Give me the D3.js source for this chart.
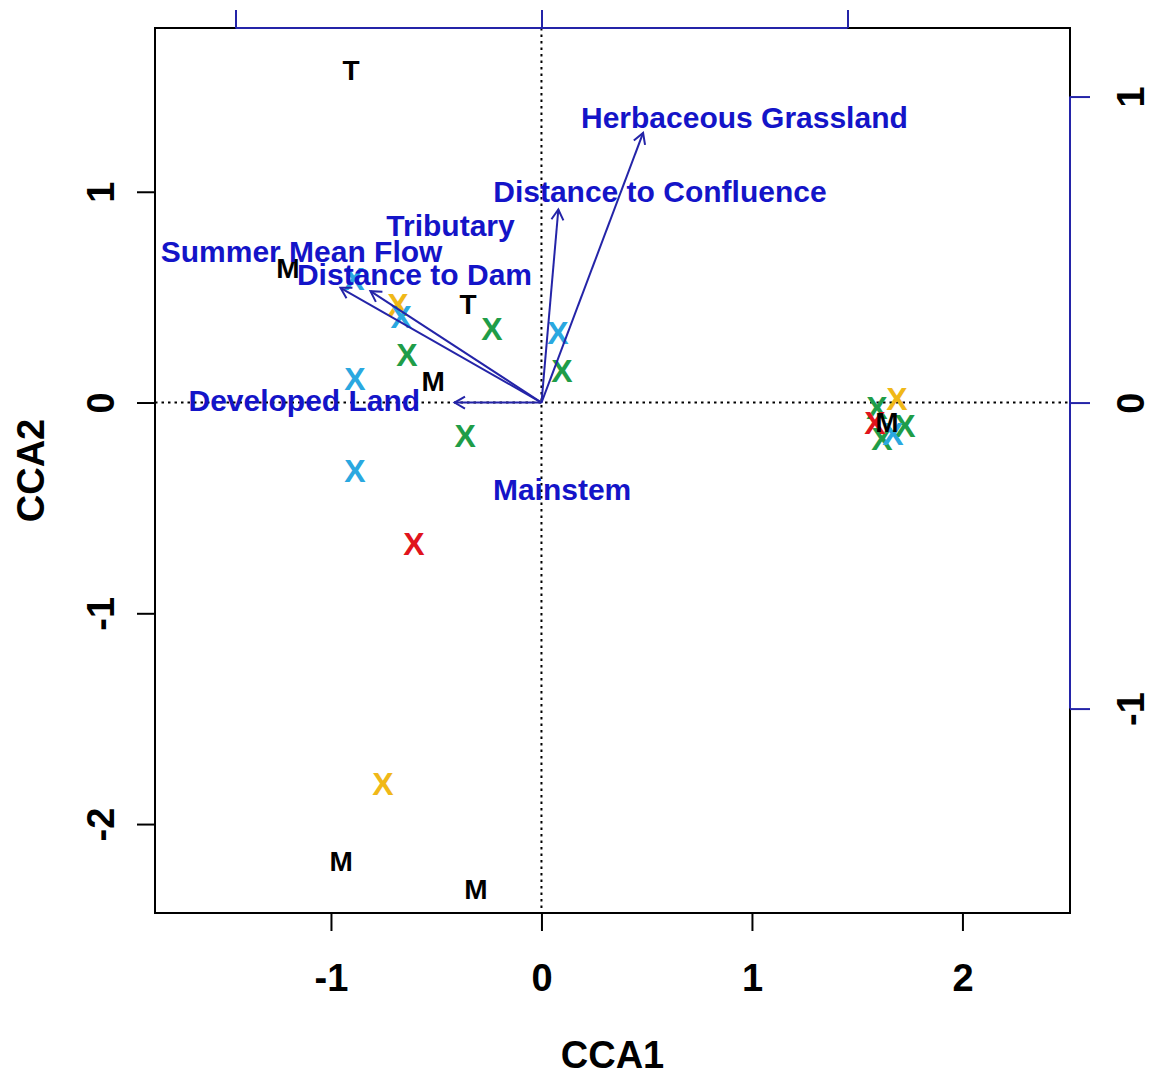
<!DOCTYPE html>
<html>
<head>
<meta charset="utf-8">
<script src="https://cdn.jsdelivr.net/npm/d3@7"></script>
<style>
  html, body { margin: 0; padding: 0; background: #ffffff; }
  svg { display: block; font-family: "Liberation Sans", Arial, Helvetica, sans-serif; font-weight: bold; }
</style>
</head>
<body>
<svg id="chart" width="1150" height="1078"></svg>
<script>
// ---- Site scores (CCA1, CCA2), one array per colour group ----
const greenSites  = [[-0.235, 0.353], [-0.639, 0.230], [-0.363, -0.159], [0.097, 0.154],
                     [1.594, -0.026], [1.727, -0.107], [1.618, -0.169]];
const yellowSites = [[-0.682, 0.463], [-0.753, -1.810], [1.689, 0.021]];
const blueSites   = [[-0.891, 0.586], [-0.667, 0.410], [-0.886, 0.116], [-0.886, -0.325],
                     [0.078, 0.330], [1.670, -0.145]];
const redSites    = [[-0.606, -0.671], [1.584, -0.093]];

// ---- Lettered scores: M = mainstem, T = tributary ----
const letterCodes  = ["T", "M", "T", "M", "M", "M", "M"];
const letterScores = [[-0.905, 1.577], [-1.204, 0.638], [-0.349, 0.467], [-0.515, 0.102],
                      [1.641, -0.093], [-0.952, -2.175], [-0.311, -2.308]];

// ---- Environmental biplot arrows (biplot axis units) ----
const envNames  = ["Herbaceous Grassland", "Distance to Confluence", "Summer Mean Flow",
                   "Distance to Dam", "Developed Land"];
const envArrows = [[0.332, 0.881], [0.055, 0.631], [-0.657, 0.375], [-0.559, 0.364], [-0.284, 0.0]];
const envLabels = [[0.663, 0.931], [0.387, 0.690], [-0.784, 0.494], [-0.415, 0.418], [-0.775, 0.008]];

// ---- Factor centroids (site units) ----
const centroidNames  = ["Tributary", "Mainstem"];
const centroidScores = [[-0.432, 0.840], [0.098, -0.413]];

// ---- Axis ticks ----
const xTicks = [-1, 0, 1, 2];
const yTicks = [-2, -1, 0, 1];
const biplotTicks = [-1, 0, 1];

const colors = { green: "#1f9d48", yellow: "#f0b818", blue: "#2aa8e0", red: "#e0141c" };
const envBlue = "#1414c8";
const arrowBlue = "#2424a8";

const svg = d3.select("#chart");
const L = 155, R = 1070, T = 28, B = 913;

// Site-score scales (bottom / left axes)
const x = d3.scaleLinear().domain([-1.836, 2.511]).range([L, R]);
const y = d3.scaleLinear().domain([1.777, -2.422]).range([T, B]);
// Biplot scales (top / right axes)
const bx = d3.scaleLinear().domain([-1.263, 1.727]).range([L, R]);
const by = d3.scaleLinear().domain([1.224, -1.668]).range([T, B]);

// Zero reference lines
svg.append("line")
  .attr("x1", x(0)).attr("x2", x(0)).attr("y1", T).attr("y2", B)
  .attr("stroke", "#000").attr("stroke-width", 2).attr("stroke-dasharray", "2.5,4");
svg.append("line")
  .attr("x1", L).attr("x2", R).attr("y1", y(0)).attr("y2", y(0))
  .attr("stroke", "#000").attr("stroke-width", 2).attr("stroke-dasharray", "2.5,4");

// Colored X marks
const groups = [[greenSites, colors.green], [yellowSites, colors.yellow],
                [blueSites, colors.blue], [redSites, colors.red]];
const xSize = 32;
groups.forEach(([pts, col]) => {
  svg.append("g").selectAll("text").data(pts).join("text")
    .attr("x", d => x(d[0]))
    .attr("y", d => y(d[1]) + 0.358 * xSize)
    .attr("text-anchor", "middle")
    .attr("font-size", xSize)
    .attr("fill", col)
    .text("X");
});

// Letters
const lSize = 28;
svg.append("g").selectAll("text").data(letterScores).join("text")
  .attr("x", d => x(d[0]))
  .attr("y", d => y(d[1]) + 0.358 * lSize)
  .attr("text-anchor", "middle")
  .attr("font-size", lSize)
  .attr("fill", "#000")
  .text((d, i) => letterCodes[i]);

// Biplot arrows with open heads
const gArr = svg.append("g").attr("stroke", arrowBlue).attr("stroke-width", 2).attr("fill", "none");
const headLen = 12, headAng = Math.PI / 6;
envArrows.forEach(a => {
  const x0 = bx(0), y0 = by(0), x1 = bx(a[0]), y1 = by(a[1]);
  gArr.append("line").attr("x1", x0).attr("y1", y0).attr("x2", x1).attr("y2", y1);
  const ang = Math.atan2(y1 - y0, x1 - x0);
  const head = d3.path();
  head.moveTo(x1 - headLen * Math.cos(ang - headAng), y1 - headLen * Math.sin(ang - headAng));
  head.lineTo(x1, y1);
  head.lineTo(x1 - headLen * Math.cos(ang + headAng), y1 - headLen * Math.sin(ang + headAng));
  gArr.append("path").attr("d", head.toString());
});

// Arrow labels and centroid labels
const tSize = 30;
svg.append("g").selectAll("text").data(envLabels).join("text")
  .attr("x", d => bx(d[0]))
  .attr("y", d => by(d[1]) + 0.358 * tSize)
  .attr("text-anchor", "middle")
  .attr("font-size", tSize)
  .attr("fill", envBlue)
  .text((d, i) => envNames[i]);
svg.append("g").selectAll("text").data(centroidScores).join("text")
  .attr("x", d => x(d[0]))
  .attr("y", d => y(d[1]) + 0.358 * tSize)
  .attr("text-anchor", "middle")
  .attr("font-size", tSize)
  .attr("fill", envBlue)
  .text((d, i) => centroidNames[i]);

// Plot box
svg.append("rect")
  .attr("x", L).attr("y", T).attr("width", R - L).attr("height", B - T)
  .attr("fill", "none").attr("stroke", "#000").attr("stroke-width", 2);

const fmt = d => String(d);
const axSize = 38;

// Bottom axis
const gB = svg.append("g").attr("transform", `translate(0,${B})`)
  .call(d3.axisBottom(x).tickValues(xTicks).tickSize(18).tickPadding(33).tickFormat(fmt));
gB.select(".domain").remove();
gB.selectAll("line").attr("stroke", "#000").attr("stroke-width", 2);
gB.selectAll("text").attr("font-size", axSize).attr("font-family", null).attr("fill", "#000");

// Left axis (rotated labels)
const gL = svg.append("g").attr("transform", `translate(${L},0)`)
  .call(d3.axisLeft(y).tickValues(yTicks).tickSize(18).tickFormat(fmt));
gL.select(".domain").remove();
gL.selectAll("line").attr("stroke", "#000").attr("stroke-width", 2);
gL.selectAll("text")
  .attr("x", null).attr("dy", null)
  .attr("transform", "translate(-55,0) rotate(-90)")
  .attr("y", 0.358 * axSize)
  .attr("text-anchor", "middle")
  .attr("font-size", axSize).attr("font-family", null).attr("fill", "#000");

// Top biplot axis (blue, labels fall above the figure)
const gT = svg.append("g").attr("transform", `translate(0,${T})`)
  .call(d3.axisTop(bx).tickValues(biplotTicks).tickSize(18).tickFormat(""));
gT.select(".domain").remove();
gT.selectAll("line").attr("stroke", arrowBlue).attr("stroke-width", 2);
gT.append("line")
  .attr("x1", bx(biplotTicks[0])).attr("x2", bx(biplotTicks[biplotTicks.length - 1]))
  .attr("stroke", arrowBlue).attr("stroke-width", 2);

// Right biplot axis (blue, rotated labels)
const gR = svg.append("g").attr("transform", `translate(${R},0)`)
  .call(d3.axisRight(by).tickValues(biplotTicks).tickSize(20).tickFormat(fmt));
gR.select(".domain").remove();
gR.selectAll("line").attr("stroke", arrowBlue).attr("stroke-width", 2);
gR.append("line")
  .attr("y1", by(biplotTicks[0])).attr("y2", by(biplotTicks[biplotTicks.length - 1]))
  .attr("stroke", arrowBlue).attr("stroke-width", 2);
gR.selectAll("text")
  .attr("x", null).attr("dy", null)
  .attr("transform", "translate(60,0) rotate(-90)")
  .attr("y", 0.358 * axSize)
  .attr("text-anchor", "middle")
  .attr("font-size", axSize).attr("font-family", null).attr("fill", "#000");

// Axis titles
svg.append("text")
  .attr("x", (L + R) / 2).attr("y", 1068)
  .attr("text-anchor", "middle").attr("font-size", axSize).attr("fill", "#000")
  .text("CCA1");
svg.append("text")
  .attr("transform", `translate(30,${(T + B) / 2}) rotate(-90)`)
  .attr("y", 0.358 * axSize)
  .attr("text-anchor", "middle").attr("font-size", axSize).attr("fill", "#000")
  .text("CCA2");
</script>
</body>
</html>
